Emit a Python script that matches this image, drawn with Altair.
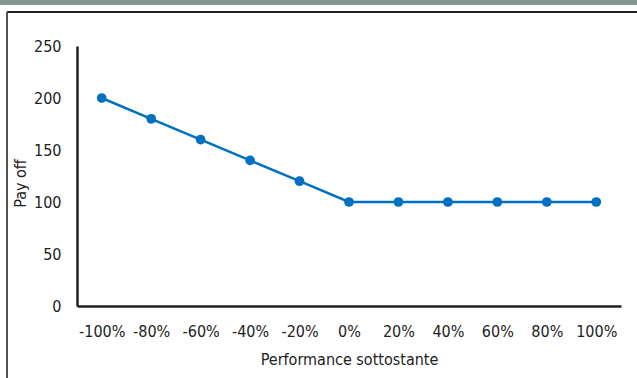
import altair as alt
import pandas as pd

# Payoff profile versus underlying performance
performance = ["-100%", "-80%", "-60%", "-40%", "-20%", "0%", "20%", "40%", "60%", "80%", "100%"]
payoff = [200, 180, 160, 140, 120, 100, 100, 100, 100, 100, 100]
y_ticks = [0, 50, 100, 150, 200, 250]

df = pd.DataFrame({"perf": performance, "payoff": payoff})

FONT = "'DejaVu Sans Condensed', 'Roboto Condensed', 'Arial Narrow', sans-serif"
BLUE = "#0070C0"
AXIS = "#231F20"

x_enc = alt.X(
    "perf:N",
    sort=performance,
    scale=alt.Scale(paddingInner=0, paddingOuter=0.5),
    axis=alt.Axis(
        title="Performance sottostante",
        titleFont=FONT, titleFontSize=16, titleFontWeight="normal", titleColor="#222",
        titlePadding=12,
        labelFont=FONT, labelFontSize=16, labelColor="#222", labelPadding=17,
        labelAngle=0, ticks=False, domainColor=AXIS, domainWidth=2.5, grid=False,
    ),
)
y_enc = alt.Y(
    "payoff:Q",
    scale=alt.Scale(domain=[0, 250], nice=False),
    axis=alt.Axis(
        values=y_ticks,
        title="Pay off",
        titleFont=FONT, titleFontSize=16, titleFontWeight="normal", titleColor="#222",
        titleX=-57, titleY=137, titleAngle=270, titleAlign="center", titleBaseline="middle",
        labelFont=FONT, labelFontSize=16, labelColor="#222", labelPadding=16,
        ticks=False, domainColor=AXIS, domainWidth=2.5, grid=False,
    ),
)

line = alt.Chart(df).mark_line(color=BLUE, strokeWidth=2.5).encode(x=x_enc, y=y_enc)
points = alt.Chart(df).mark_circle(color=BLUE, size=95, opacity=1).encode(x=x_enc, y=y_enc)

# Header band and frame edges around the chart
band = alt.Chart(df).mark_rect(color="#85958F", clip=False).encode(
    x=alt.value(-77), x2=alt.value(600), y=alt.value(-46), y2=alt.value(-41)
)
frame_top = alt.Chart(df).mark_rule(color="#222", strokeWidth=1.5, clip=False).encode(
    x=alt.value(-70), x2=alt.value(600), y=alt.value(-34), y2=alt.value(-34)
)
frame_left = alt.Chart(df).mark_rule(color="#555", strokeWidth=1, clip=False).encode(
    x=alt.value(-70), x2=alt.value(-70), y=alt.value(-34), y2=alt.value(340)
)

chart = (
    alt.layer(band, frame_top, frame_left, line, points)
    .properties(
        width=544,
        height=260,
        autosize=alt.AutoSizeParams(type="none"),
        padding={"left": 77, "top": 46, "right": 16, "bottom": 72},
        background="white",
    )
    .configure_view(stroke=None)
)

chart.save("out.html", embed_options={"renderer": "svg", "actions": False})
